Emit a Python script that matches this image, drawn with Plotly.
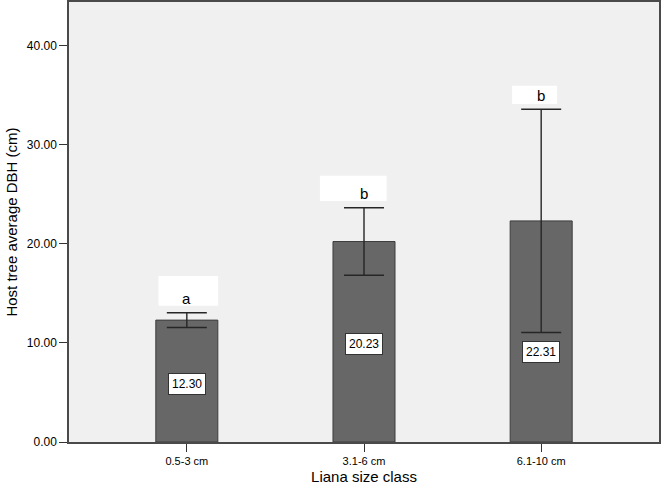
import plotly.graph_objects as go

# ---- data ----
categories = ["0.5-3 cm", "3.1-6 cm", "6.1-10 cm"]
means = [12.30, 20.23, 22.31]
ci_half = [0.74, 3.41, 11.26]
letters = ["a", "b", "b"]
value_labels = ["12.30", "20.23", "22.31"]
y_ticks = [0, 10, 20, 30, 40]

# ---- layout helpers (positions/styles, not data) ----
label_y = [5.9, 9.9, 9.1]                 # y-centre of value label boxes
box_left = [-0.16, -0.249, -0.164]         # letter-box extents (category units)
box_right = [0.177, 0.128, 0.09]
box_gap = [0.7, 0.67, 0.54]               # gap above error bar top
box_h = [3.0, 2.55, 1.85]
letter_gap = 1.4

FONT = "Liberation Sans, Arial, sans-serif"

fig = go.Figure()
fig.add_trace(go.Bar(
    x=categories, y=means, width=0.35,
    marker=dict(color="#676767", line=dict(color="#3c3c3c", width=1)),
    error_y=dict(type="data", array=ci_half, symmetric=True,
                 color="#262626", thickness=1.4, width=20),
    hoverinfo="skip",
))

shapes = []
annotations = []
for i, cat in enumerate(categories):
    top = means[i] + ci_half[i]
    shapes.append(dict(type="rect", xref="x", yref="y",
                       x0=i + box_left[i], x1=i + box_right[i],
                       y0=top + box_gap[i], y1=top + box_gap[i] + box_h[i],
                       fillcolor="white", line=dict(width=0), layer="above"))
    annotations.append(dict(x=i, y=top + letter_gap, xref="x", yref="y",
                            text=letters[i], showarrow=False,
                            font=dict(family=FONT, size=15, color="black")))
    annotations.append(dict(x=i, y=label_y[i], xref="x", yref="y",
                            text=value_labels[i], showarrow=False,
                            bgcolor="white", bordercolor="#333333", borderwidth=1,
                            borderpad=3,
                            font=dict(family=FONT, size=12, color="black")))

fig.update_layout(
    width=661, height=488,
    margin=dict(l=69, r=2, t=2, b=46, autoexpand=False),
    paper_bgcolor="white", plot_bgcolor="#F0F0F0",
    showlegend=False,
    shapes=shapes, annotations=annotations,
    font=dict(family=FONT, color="black"),
    xaxis=dict(
        type="category", range=[-0.665, 2.665],
        showline=True, linecolor="#4a4a4a", linewidth=1.5, mirror=True,
        ticks="outside", ticklen=8, tickcolor="#333333", tickwidth=1,
        tickfont=dict(family=FONT, size=11),
        title=dict(text="Liana size class", font=dict(family=FONT, size=15), standoff=6),
        showgrid=False, automargin=False,
    ),
    yaxis=dict(
        range=[0, 44.4],
        tickvals=y_ticks, ticktext=[f"{v:.2f}" for v in y_ticks],
        showline=True, linecolor="#4a4a4a", linewidth=1.5, mirror=True,
        ticks="outside", ticklen=8, tickcolor="#333333", tickwidth=1,
        tickfont=dict(family=FONT, size=12),
        title=dict(text="Host tree average DBH (cm)", font=dict(family=FONT, size=15), standoff=6),
        showgrid=False, zeroline=False, automargin=False,
    ),
)

fig.write_html(
    "out.html",
    config={"displayModeBar": False},
    post_script="document.body.style.margin='0';document.body.style.overflow='hidden';",
)
